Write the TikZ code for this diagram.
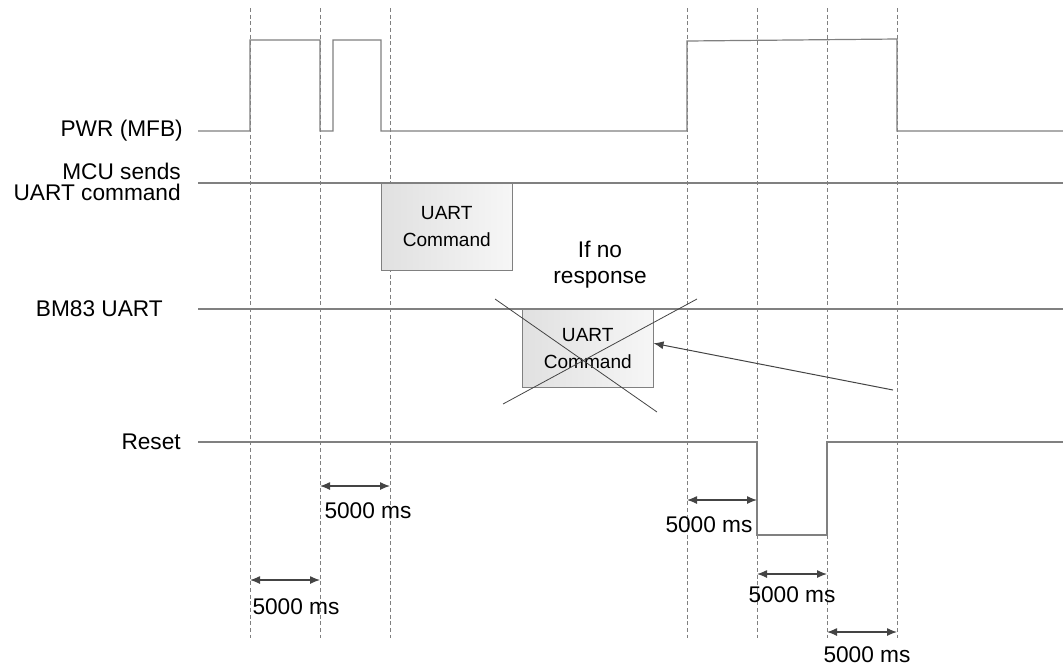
\documentclass[tikz,border=0pt]{standalone}
\usepackage{fontspec}
\setmainfont{Liberation Sans}
\usetikzlibrary{arrows.meta, positioning}
\definecolor{wave}{RGB}{128,128,128}
\definecolor{mark}{RGB}{68,68,68}

\begin{document}
\begin{tikzpicture}[
  x=0.75pt, y=-0.75pt,
  every node/.style={font=\fontsize{17}{15}\selectfont, inner sep=0pt},
  sig/.style={draw=wave, line width=0.9pt},
  vline/.style={draw=wave, line width=0.75pt, dash pattern=on 3pt off 2pt},
  span/.style={{Latex[length=7.5pt,width=6pt]}-{Latex[length=7.5pt,width=6pt]}, draw=mark, line width=0.9pt},
  arr/.style={-{Latex[length=7.5pt,width=6pt]}, draw=mark, line width=0.75pt},
  cross/.style={draw=mark, line width=0.6pt},
  cmd/.style={rectangle, draw=wave, left color=gray!24, right color=gray!7, anchor=north west,
              minimum width=98.25pt, align=center, font=\fontsize{14.3}{20}\selectfont},
]
\useasboundingbox (0,0) rectangle (1063,669);
\foreach \x [count=\i] in {250,320,390,687,757,827,897}
  \draw[vline] (\x,8) coordinate (t\i) -- (\x,638);

\node[anchor=east]             (pwr) at (183,131) {PWR (MFB)};
\node[anchor=east, align=right, font=\fontsize{17}{15.5}\selectfont] (mcu) at (181,182) {MCU sends\\UART command};
\node[anchor=east]             (bm)  at (163,309) {BM83 UART};
\node[anchor=east]             (rst) at (181,442) {Reset};

\draw[sig] (198,131) -- (250,131) -- (250,40) -- (320,40) -- (320,131) -- (333,131)
  -- (333,40) -- (381,40) -- (381,131) -- (687,131) -- (687,41) -- (897,39)
  -- (897,131) -- (1063,131);
\draw[sig] (198,183) -- (1063,183);
\draw[sig] (198,309) -- (1063,309);
\draw[sig] (198,442) -- (757,442) -- (757,535) -- (827,535) -- (827,442) -- (1063,442);

\node[cmd, minimum height=65.25pt] (b1) at (381,183) {UART\\Command};
\node[cmd, minimum height=58.5pt]  (b2) at (522,309) {UART\\Command};
\node[align=center, font=\fontsize{17}{19.5}\selectfont] (nr) at (600,265) {If no\\response};
\draw[cross] (495,299) -- (657,412);
\draw[cross] (697,299) -- (503,404);
\coordinate (tail) at (893,390);
\draw[arr] (tail) -- ([yshift=3.75pt]b2.east);

\draw[span] (t1 |- 0,580) -- (t2 |- 0,580);
\draw[span] (t2 |- 0,486) -- (t3 |- 0,486);
\draw[span] (t4 |- 0,500) -- (t5 |- 0,500);
\draw[span] (t5 |- 0,574) -- (t6 |- 0,574);
\draw[span] (t6 |- 0,632) -- (t7 |- 0,632);
\node (d1) at (296,607) {5000 ms};
\node (d2) at (368,511) {5000 ms};
\node (d3) at (709,525) {5000 ms};
\node (d4) at (792,595) {5000 ms};
\node (d5) at (867,655) {5000 ms};
\end{tikzpicture}
\end{document}
